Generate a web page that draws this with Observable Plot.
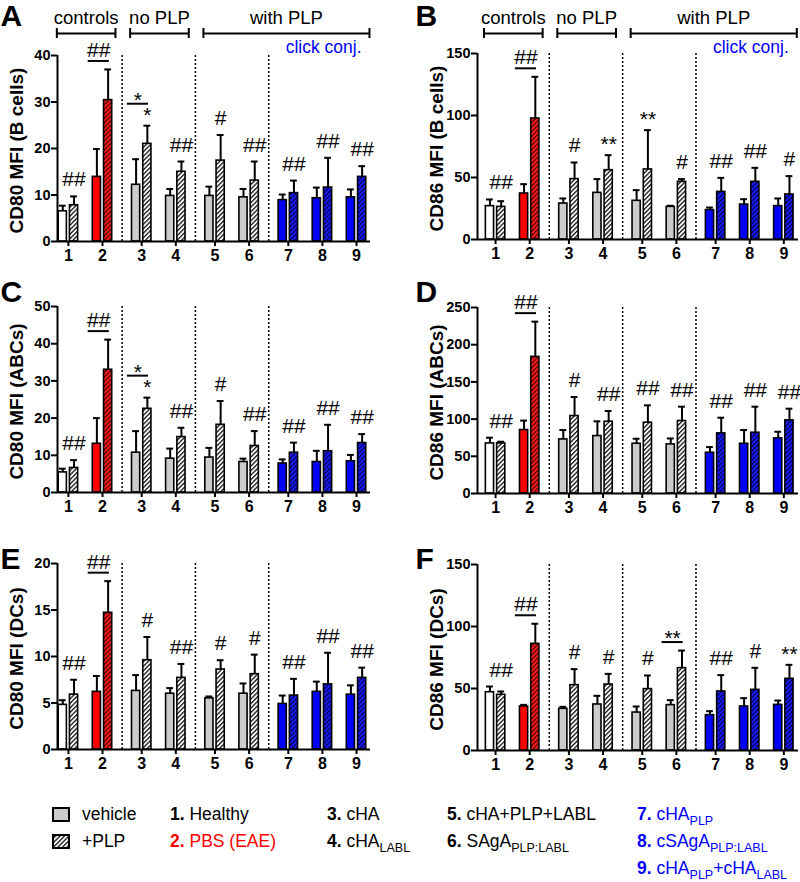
<!DOCTYPE html>
<html>
<head>
<meta charset="utf-8">
<script src="https://cdn.jsdelivr.net/npm/d3@7"></script>
<script src="https://cdn.jsdelivr.net/npm/@observablehq/plot@0.6"></script>
<style>
  body { margin: 0; background: #fff; font-family: "Liberation Sans", Arial, sans-serif; }
  #root { position: relative; width: 800px; height: 882px; overflow: hidden; background: #fff; }
  .panel { position: absolute; }
  .leg { position: absolute; font-size: 17.5px; line-height: 20px; white-space: nowrap; }
  .leg b { font-weight: bold; }
  .leg sub { font-size: 12.5px; vertical-align: -5px; line-height: 0; }
</style>
</head>
<body>
<svg width="0" height="0" style="position:absolute">
  <defs>
    <pattern id="h-bw" patternUnits="userSpaceOnUse" width="3.2" height="3.2" patternTransform="rotate(45)">
      <rect width="3.2" height="3.2" fill="#ffffff"/><rect width="1.3" height="3.2" fill="#111"/>
    </pattern>
    <pattern id="h-red" patternUnits="userSpaceOnUse" width="3.2" height="3.2" patternTransform="rotate(45)">
      <rect width="3.2" height="3.2" fill="#ff1a1a"/><rect width="1.1" height="3.2" fill="#3a0000"/>
    </pattern>
    <pattern id="h-blue" patternUnits="userSpaceOnUse" width="3.2" height="3.2" patternTransform="rotate(45)">
      <rect width="3.2" height="3.2" fill="#1a1aff"/><rect width="1.1" height="3.2" fill="#00003a"/>
    </pattern>
  </defs>
</svg>
<div id="root"></div>
<script>
// ---------- categories ----------
const groups = ["1","2","3","4","5","6","7","8","9"];
const groupSet = ["controls","controls","no PLP","no PLP","with PLP","with PLP","click conj.","click conj.","click conj."];
const groupBracket = ["controls","controls","no PLP","no PLP","with PLP","with PLP","with PLP","with PLP","with PLP"];
const groupKind = ["healthy","eae","plain","plain","plain","plain","click","click","click"];
const treatmentNames = ["Healthy","PBS (EAE)","cHA","cHA_{LABL}","cHA+PLP+LABL","SAgA_{PLP:LABL}","cHA_{PLP}","cSAgA_{PLP:LABL}","cHA_{PLP}+cHA_{LABL}"];
const conditionNames = ["vehicle","+PLP"];
const clickLabel = "click conj.";

// ---------- panel meta ----------
const panelLetters = ["A","B","C","D","E","F"];
const panelTitles = ["CD80 MFI (B cells)","CD86 MFI (B cells)","CD80 MFI (ABCs)","CD86 MFI (ABCs)","CD80 MFI (DCs)","CD86 MFI (DCs)"];
const panelMax = [40,150,50,250,20,150];
const panelTicks = [[0,10,20,30,40],[0,50,100,150],[0,10,20,30,40,50],[0,50,100,150,200,250],[0,5,10,15,20],[0,50,100,150]];

// ---------- values (mean, mean+SD) ----------
const A_vehicle    = [6.5,13.9,12.2,9.8,9.8,9.5,8.9,9.3,9.5];
const A_vehicleErr = [7.7,19.9,17.7,11.3,11.8,11.3,10.1,11.6,11.2];
const A_plp        = [7.8,30.4,21.0,15.0,17.4,13.1,10.4,11.6,13.9];
const A_plpErr     = [9.7,37.0,24.9,17.2,22.9,17.2,13.1,18.0,16.2];
const A_sigPLP     = ["##","","*","##","#","##","##","##","##"];
const A_sigPair    = ["","##","*","","","","","",""];

const B_vehicle    = [26.9,37.1,29.0,37.6,31.2,26.3,23.7,28.2,26.9];
const B_vehicleErr = [32.3,44.6,33.1,48.7,39.8,27.2,25.8,32.5,33.1];
const B_plp        = [26.3,97.6,48.7,55.9,56.5,46.5,38.4,46.5,36.3];
const B_plpErr     = [30.9,131.2,62.1,68.0,88.2,48.7,49.7,57.8,51.1];
const B_sigPLP     = ["##","","#","**","**","#","##","##","#"];
const B_sigPair    = ["","##","","","","","","",""];

const C_vehicle    = [5.4,13.1,10.7,9.1,9.4,8.2,7.8,8.2,8.4];
const C_vehicleErr = [6.4,20.0,16.5,11.8,12.0,9.1,8.9,11.2,10.1];
const C_plp        = [6.6,33.0,22.5,14.9,18.2,12.5,10.7,11.1,13.3];
const C_plpErr     = [8.7,41.1,25.5,17.4,24.6,16.5,13.4,18.2,15.7];
const C_sigPLP     = ["##","","*","##","#","##","##","##","##"];
const C_sigPair    = ["","##","*","","","","","",""];

const D_vehicle    = [67.3,85.3,72.7,77.2,66.9,66.0,54.8,66.9,74.1];
const D_vehicleErr = [75.0,98.0,85.3,97.0,73.6,74.0,62.4,85.3,83.0];
const D_plp        = [67.3,183.6,104.1,96.5,95.2,97.4,80.8,81.7,98.3];
const D_plpErr     = [69.6,231.0,129.7,110.9,118.5,116.7,101.9,116.7,114.0];
const D_sigPLP     = ["##","","#","##","##","##","##","##","##"];
const D_sigPair    = ["","##","","","","","","",""];

const E_vehicle    = [4.8,6.2,6.3,6.0,5.5,6.0,4.9,6.2,5.9];
const E_vehicleErr = [5.3,7.9,8.0,6.6,5.7,7.1,5.8,7.3,6.9];
const E_plp        = [5.9,14.7,9.6,7.7,8.6,8.1,5.8,7.0,7.7];
const E_plpErr     = [7.5,18.1,12.1,9.2,9.6,10.2,7.6,10.4,8.8];
const E_sigPLP     = ["##","","#","##","#","#","##","##","##"];
const E_sigPair    = ["","##","","","","","","",""];

const F_vehicle    = [47.0,35.5,33.6,37.1,30.6,36.6,28.5,35.5,36.8];
const F_vehicleErr = [51.6,36.8,35.2,44.1,35.5,40.6,31.7,42.2,40.3];
const F_plp        = [44.9,86.0,52.7,53.2,49.5,66.4,47.6,48.9,57.8];
const F_plpErr     = [47.6,102.2,65.6,61.8,60.5,80.6,60.8,66.7,69.1];
const F_sigPLP     = ["##","","#","#","#","","##","#","**"];
const F_sigPair    = ["","##","","","","**","","",""];

const panelData = [
  [A_vehicle, A_vehicleErr, A_plp, A_plpErr, A_sigPLP, A_sigPair],
  [B_vehicle, B_vehicleErr, B_plp, B_plpErr, B_sigPLP, B_sigPair],
  [C_vehicle, C_vehicleErr, C_plp, C_plpErr, C_sigPLP, C_sigPair],
  [D_vehicle, D_vehicleErr, D_plp, D_plpErr, D_sigPLP, D_sigPair],
  [E_vehicle, E_vehicleErr, E_plp, E_plpErr, E_sigPLP, E_sigPair],
  [F_vehicle, F_vehicleErr, F_plp, F_plpErr, F_sigPLP, F_sigPair]
];

// ---------- styles ----------
const RED = "#ff0000", BLUE = "#0000ff";
const vehFill = {healthy: "#ffffff", eae: RED, plain: "#cccccc", click: BLUE};
const plpFill = {healthy: "url(#h-bw)", eae: "url(#h-red)", plain: "url(#h-bw)", click: "url(#h-blue)"};
const textColor = {healthy: "black", eae: RED, plain: "black", click: BLUE};
const FONT = "'Liberation Sans', Arial, sans-serif";

// x position of each group (extra gap between sets)
const setOrder = [...new Set(groupSet)];
const pos = groups.map((g, i) => i + 0.15 * setOrder.indexOf(groupSet[i]));
const seps = [];
for (let i = 1; i < groups.length; i++) if (groupSet[i] !== groupSet[i - 1]) seps.push((pos[i - 1] + pos[i]) / 2);
const brackets = [...new Set(groupBracket)].map(name => {
  const idx = groupBracket.map((b, i) => b === name ? i : -1).filter(i => i >= 0);
  return {name, x1: pos[idx[0]] - 0.34, x2: pos[idx[idx.length - 1]] + 0.38};
});

const layouts = [
  {left: 0,   top: 0,   mt: 55, col: 0},
  {left: 400, top: 0,   mt: 53, col: 1},
  {left: 0,   top: 268, mt: 38, col: 0},
  {left: 400, top: 268, mt: 39, col: 1},
  {left: 0,   top: 519, mt: 44, col: 0},
  {left: 400, top: 519, mt: 45, col: 1}
];
const letterDy = [-39, -37, -14, -15, -4, -5];

const root = document.getElementById("root");

panelData.forEach((pd, k) => {
  const [veh, vehErr, plp, plpErr, sigPLP, sigPair] = pd;
  const L = layouts[k];
  const right = L.col === 1;
  const width = right ? 400 : 380;
  const ml = right ? 77 : 57, mr = right ? 2 : 10;
  const xd = right ? [-0.53, 8.88] : [-0.32, 8.86];
  const H = 186, mb = 27;
  const ymax = panelMax[k];
  const pxu = ymax / H; // data units per pixel
  const off = 0.165, hw = 0.12, cap = 0.1;
  const rows = groups.map((g, i) => ({
    i, g, pos: pos[i], kind: groupKind[i],
    veh: veh[i], vehErr: vehErr[i], plp: plp[i], plpErr: plpErr[i],
    top: Math.max(vehErr[i], plpErr[i]), sigP: sigPLP[i], sigQ: sigPair[i]
  }));
  const vx = d => d.pos - off, px = d => d.pos + off;
  const isHash = s => s.includes("#");
  const pairLineDy = d => d.sigP ? -22 : -8.5;
  const SIG = 21;

  const marks = [
    Plot.ruleX(seps, {x: d => d, y1: 0, y2: ymax, stroke: "black", strokeWidth: 1.5, strokeDasharray: "2,2"}),
    // error bars
    Plot.ruleX(rows, {x: vx, y1: "veh", y2: "vehErr", stroke: "black", strokeWidth: 2}),
    Plot.ruleY(rows, {y: "vehErr", x1: d => vx(d) - cap, x2: d => vx(d) + cap, stroke: "black", strokeWidth: 2}),
    Plot.ruleX(rows, {x: px, y1: "plp", y2: "plpErr", stroke: "black", strokeWidth: 2}),
    Plot.ruleY(rows, {y: "plpErr", x1: d => px(d) - cap, x2: d => px(d) + cap, stroke: "black", strokeWidth: 2}),
    // bars
    Plot.rectY(rows, {x1: d => vx(d) - hw, x2: d => vx(d) + hw, y1: 0, y2: "veh", fill: d => vehFill[d.kind], stroke: "black", strokeWidth: 1.6}),
    Plot.rectY(rows, {x1: d => px(d) - hw, x2: d => px(d) + hw, y1: 0, y2: "plp", fill: d => plpFill[d.kind], stroke: "black", strokeWidth: 1.6}),
    // axes
    Plot.ruleY([0], {stroke: "black", strokeWidth: 2}),
    Plot.ruleX([xd[0]], {y1: 0, y2: ymax, stroke: "black", strokeWidth: 2}),
    Plot.axisY({ticks: panelTicks[k], tickSize: 6, tickPadding: 1, fontSize: 14.5, fontWeight: "bold", strokeWidth: 2, label: null}),
    Plot.axisX({ticks: pos, tickFormat: d => groups[pos.indexOf(d)], tickSize: 5, tickPadding: 3, fontSize: 16, fontWeight: "bold", strokeWidth: 2, label: null}),
    // significance labels over PLP bar
    Plot.text(rows.filter(d => d.sigP && isHash(d.sigP)), {x: px, y: "top", text: "sigP", dy: -10, lineAnchor: "bottom", fontSize: SIG}),
    Plot.text(rows.filter(d => d.sigP && !isHash(d.sigP)), {x: px, y: "top", text: "sigP", dy: -4, lineAnchor: "bottom", fontSize: SIG}),
    // pair comparison lines
    Plot.ruleY(rows.filter(d => d.sigQ), {y: d => d.top - pairLineDy(d) * pxu, x1: d => d.pos - 0.42, x2: d => d.pos + 0.2, stroke: "black", strokeWidth: 2}),
    Plot.text(rows.filter(d => d.sigQ && isHash(d.sigQ)), {x: d => d.pos - 0.11, y: d => d.top - pairLineDy(d) * pxu, text: "sigQ", dy: -4, lineAnchor: "bottom", fontSize: SIG}),
    Plot.text(rows.filter(d => d.sigQ && !isHash(d.sigQ)), {x: d => d.pos - 0.11, y: d => d.top - pairLineDy(d) * pxu, text: "sigQ", dy: 3, lineAnchor: "bottom", fontSize: SIG}),
    // panel letter + y title
    Plot.text([panelLetters[k]], {frameAnchor: "top-left", text: d => d, textAnchor: "start", lineAnchor: "middle", dx: right ? -62 : -57, dy: letterDy[k], fontSize: 30, fontWeight: "bold"}),
    Plot.text([panelTitles[k]], {frameAnchor: "left", text: d => d, rotate: -90, textAnchor: "middle", lineAnchor: "middle", dx: -41, dy: 2, fontSize: 19, fontWeight: "bold"})
  ];

  if (k < 2) {
    const yLine = ymax + (right ? 20 : 22) * pxu;
    const yTxt = ymax + (right ? 35 : 37) * pxu;
    const ends = brackets.flatMap(b => [b.x1, b.x2]);
    marks.push(
      Plot.ruleY(brackets, {y: () => yLine, x1: "x1", x2: "x2", stroke: "black", strokeWidth: 2}),
      Plot.ruleX(ends, {x: d => d, y1: () => yLine - 5 * pxu, y2: () => yLine + 5 * pxu, stroke: "black", strokeWidth: 2}),
      Plot.text(brackets, {x: d => (d.x1 + d.x2) / 2, y: () => yTxt, text: "name", fontSize: 18.5, lineAnchor: "middle"}),
      Plot.text([clickLabel], {x: () => pos[8], y: () => ymax + (right ? 6 : 8) * pxu, text: d => d, textAnchor: "end", dx: 5, fill: BLUE, fontSize: 17.5, lineAnchor: "middle"})
    );
  }

  const chart = Plot.plot({
    width, height: L.mt + H + mb,
    marginLeft: ml, marginRight: mr, marginTop: L.mt, marginBottom: mb,
    x: {domain: xd},
    y: {domain: [0, ymax]},
    color: {type: "identity"},
    style: {fontFamily: FONT, color: "black", background: "transparent", overflow: "visible"},
    marks
  });
  chart.classList.add("panel");
  chart.style.left = L.left + "px";
  chart.style.top = L.top + "px";
  root.appendChild(chart);
});

// ---------- legend ----------
function nameHTML(s) {
  return s.split(/_\{([^}]*)\}/).map((part, j) => j % 2 ? `<sub>${part}</sub>` : part).join("");
}
const rowY = [815, 842, 869];
const colX = [170, 327, 447, 637];
const slots = [[0,0],[0,1],[1,0],[1,1],[2,0],[2,1],[3,0],[3,1],[3,2]];
conditionNames.forEach((c, j) => {
  const box = document.createElement("div");
  box.className = "leg";
  box.style.left = "52px";
  box.style.top = (rowY[j] - 8) + "px";
  box.innerHTML = `<svg width="19" height="16"><rect x="1" y="1" width="16" height="13" fill="${j === 0 ? "#cccccc" : "url(#h-bw)"}" stroke="black" stroke-width="2"/></svg>`;
  root.appendChild(box);
  const t = document.createElement("div");
  t.className = "leg";
  t.style.left = "82px";
  t.style.top = (rowY[j] - 11) + "px";
  t.textContent = c;
  root.appendChild(t);
});
treatmentNames.forEach((n, i) => {
  const [c, r] = slots[i];
  const d = document.createElement("div");
  d.className = "leg";
  d.style.left = colX[c] + "px";
  d.style.top = (rowY[r] - 11) + "px";
  d.style.color = textColor[groupKind[i]];
  d.innerHTML = `<b>${groups[i]}.</b> ${nameHTML(n)}`;
  root.appendChild(d);
});
</script>
</body>
</html>
